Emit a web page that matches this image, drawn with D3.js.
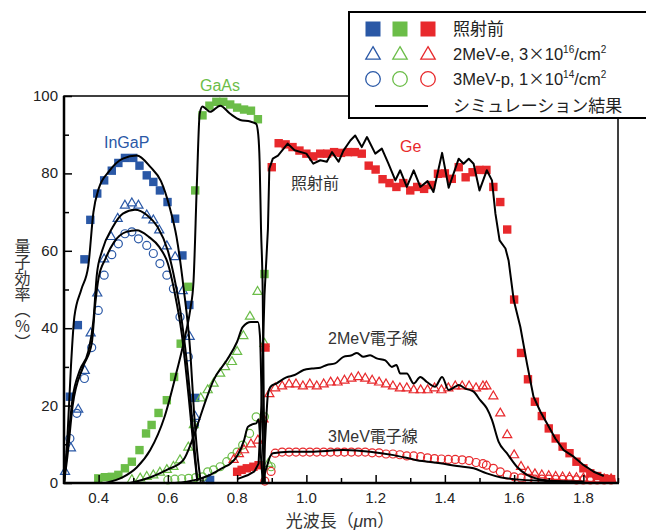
<!DOCTYPE html>
<html>
<head>
<meta charset="utf-8">
<script src="https://cdn.jsdelivr.net/npm/d3@7"></script>
<style>
  body { margin:0; background:#fff; }
  text { font-family: "Liberation Sans", Arial, "Noto Sans CJK JP", sans-serif; }
</style>
</head>
<body>
<div class="chart"></div>
<script>
// measured points, [wavelength um, QE %]
var ingapPre = [[0.317,22.3],[0.34,40.8],[0.359,57.8],[0.376,68],[0.396,74.8],[0.416,78.2],[0.438,80.7],[0.457,82.7],[0.476,84],[0.50,84],[0.518,82],[0.539,79.5],[0.558,77.8],[0.577,75.6],[0.599,72.6],[0.621,68.3],[0.642,58.8],[0.662,46],[0.679,22],[0.722,0.8]];
var ingapE = [[0.303,2.9],[0.32,9],[0.341,19],[0.36,29],[0.377,38.7],[0.396,49],[0.416,57.8],[0.436,63.6],[0.455,68.3],[0.476,71.7],[0.496,72.3],[0.515,71.7],[0.539,69.2],[0.558,67.9],[0.575,65.3],[0.597,61.2],[0.621,58.4],[0.643,49.6],[0.663,37.8],[0.679,17.1],[0.718,0.8]];
var ingapP = [[0.317,11.5],[0.337,18],[0.359,27],[0.38,35],[0.399,44.6],[0.416,53.7],[0.438,59],[0.457,61.8],[0.476,64.4],[0.496,64.9],[0.515,63.1],[0.539,61.4],[0.558,59.3],[0.577,56.7],[0.597,53.7],[0.616,50.2],[0.635,42.9],[0.659,32.6],[0.677,15]];

var gaasPre = [[0.399,1.2],[0.418,1.5],[0.438,1.6],[0.457,2.1],[0.476,3.8],[0.496,5.5],[0.518,8.5],[0.537,12.8],[0.553,15],[0.573,18.1],[0.597,21.4],[0.618,27.4],[0.637,36],[0.659,50.7],[0.679,75.6],[0.70,95],[0.72,97.5],[0.74,98.5],[0.76,98.5],[0.78,97.8],[0.80,97],[0.82,96.5],[0.84,96.2],[0.86,94],[0.879,54]];
var gaasE = [[0.496,0.8],[0.52,1.2],[0.539,1.6],[0.558,2],[0.577,2.7],[0.597,3.4],[0.616,4.2],[0.635,5.9],[0.659,9.2],[0.675,15],[0.695,21.9],[0.715,24],[0.732,25.7],[0.751,28.3],[0.765,30],[0.785,31.3],[0.80,33.9],[0.818,38],[0.837,43],[0.859,49.4],[0.879,36],[0.89,5]];
var gaasP = [[0.60,0.8],[0.62,1],[0.64,1.1],[0.66,1.2],[0.68,1.4],[0.70,1.6],[0.715,2.9],[0.732,3.4],[0.751,4.2],[0.77,5.5],[0.785,6.8],[0.80,8],[0.816,9.8],[0.836,12.8],[0.855,17.1],[0.879,17.1],[0.898,4.2]];

var gePre = [[0.80,2.9],[0.813,3.4],[0.828,3.8],[0.847,4.2],[0.862,4.6],[0.882,35],[0.90,81.6],[0.92,87.8],[0.94,87.5],[0.96,86.8],[0.98,85.9],[1.00,85.1],[1.02,84.4],[1.04,85.1],[1.06,85.1],[1.08,85.5],[1.10,85.3],[1.12,85.5],[1.14,85.5],[1.16,85.1],[1.18,82],[1.20,81],[1.22,78.5],[1.24,77.5],[1.26,76.5],[1.28,77.5],[1.30,75.6],[1.32,76.5],[1.34,76],[1.36,77],[1.38,79.9],[1.40,80],[1.42,78.6],[1.44,81.6],[1.46,79],[1.48,80.3],[1.50,80.9],[1.52,80.9],[1.54,76.5],[1.56,72.6],[1.58,65.5],[1.60,47.4],[1.62,33.6],[1.64,26.8],[1.66,21],[1.68,17.3],[1.70,14.1],[1.72,11.5],[1.74,9.4],[1.76,7.7],[1.78,5.5],[1.80,3.8],[1.82,2.5],[1.84,1.8],[1.86,1.2],[1.88,1]];
var geE = [[0.79,6],[0.805,7.5],[0.82,8.5],[0.84,10],[0.86,11],[0.876,16.5],[0.893,23],[0.91,24.5],[0.93,25],[0.95,25.5],[0.97,25.5],[0.99,25],[1.01,25.5],[1.03,25],[1.05,25.5],[1.07,26],[1.09,26],[1.11,26.5],[1.13,27],[1.15,27.4],[1.17,27],[1.19,26.5],[1.21,26],[1.23,25.5],[1.25,25],[1.27,24.5],[1.29,24.5],[1.31,24],[1.33,24],[1.35,24],[1.37,24.5],[1.39,24],[1.41,24.5],[1.43,25],[1.45,25],[1.47,25],[1.49,24.5],[1.51,25],[1.52,25],[1.54,22.4],[1.56,18],[1.58,12.4],[1.60,7.2],[1.62,4.2],[1.64,2.9],[1.66,2.3],[1.68,2],[1.70,1.8],[1.72,1.6],[1.74,1.5],[1.76,1.4],[1.78,1.3],[1.80,1.2],[1.82,1.1],[1.84,1],[1.86,1],[1.88,1]];
var geP = [[0.88,0.5],[0.898,3],[0.91,7.7],[0.93,8],[0.95,8],[0.97,8],[0.99,8],[1.01,8],[1.03,8],[1.05,8],[1.07,8],[1.09,8],[1.11,8],[1.13,8],[1.15,8],[1.17,8],[1.19,7.8],[1.21,7.8],[1.23,7.5],[1.25,7.5],[1.27,7.3],[1.29,7],[1.31,7],[1.33,6.8],[1.35,6.5],[1.37,6.3],[1.39,6.2],[1.41,6.1],[1.43,6.1],[1.45,6],[1.47,5.8],[1.49,5.3],[1.51,5],[1.52,4.6],[1.54,3.8],[1.56,2.9],[1.58,2.1],[1.60,1.6],[1.62,1.3],[1.64,1.1],[1.66,1],[1.68,1],[1.70,1],[1.72,0.9],[1.74,0.9],[1.76,0.9],[1.78,0.8],[1.80,0.8],[1.82,0.8],[1.84,0.8],[1.86,0.8],[1.88,0.8]];

// simulation curves
var ingapPreSim = [[0.30,0],[0.31,12],[0.32,30],[0.33,43],[0.35,50],[0.37,56],[0.385,70],[0.40,76],[0.43,80.5],[0.47,83.8],[0.51,84.6],[0.55,81.6],[0.58,78],[0.605,71.3],[0.625,63.6],[0.645,50.7],[0.665,33.5],[0.675,19],[0.685,7.7],[0.695,0.3]];
var ingapESim = [[0.30,0],[0.31,9],[0.325,22],[0.345,29],[0.37,34],[0.385,42],[0.395,54],[0.41,60],[0.44,66],[0.47,69.6],[0.505,70.6],[0.54,69.2],[0.57,66.2],[0.60,60],[0.62,52.4],[0.64,42],[0.66,26.6],[0.675,11],[0.685,0.5]];
var ingapPSim = [[0.30,0],[0.31,7],[0.325,20],[0.355,30],[0.38,36],[0.39,46],[0.40,53],[0.42,58],[0.445,62.3],[0.48,64.9],[0.51,65.3],[0.545,63.6],[0.575,61],[0.60,56.7],[0.62,49],[0.64,38.6],[0.66,22.3],[0.675,8.5],[0.685,0.5]];
var gaasPreSim = [[0.42,0],[0.47,1.5],[0.51,4],[0.549,8.5],[0.59,17],[0.626,29],[0.65,38],[0.665,45],[0.674,52],[0.684,78],[0.692,95.5],[0.70,97.3],[0.712,96.5],[0.722,95.9],[0.751,97.5],[0.78,95.4],[0.809,93.8],[0.838,93.4],[0.855,92.8],[0.861,90],[0.865,83],[0.869,65.7],[0.874,48.5],[0.877,20],[0.880,0]];
var gaasESim = [[0.49,0],[0.55,1.5],[0.60,3.5],[0.645,6],[0.67,11],[0.693,17],[0.712,22],[0.732,26.6],[0.77,31.7],[0.80,36.5],[0.816,40.3],[0.84,41.6],[0.86,41.6],[0.866,38],[0.870,25],[0.875,8],[0.879,0]];
var gaasPSim = [[0.62,0],[0.68,0.8],[0.72,2],[0.76,4],[0.78,5],[0.80,7],[0.82,11],[0.831,14.5],[0.845,15.2],[0.855,15.4],[0.862,16.5],[0.866,12],[0.870,5],[0.875,0]];
var gePreSim = [[0.80,1],[0.83,2],[0.85,3],[0.862,5],[0.87,20],[0.879,48.5],[0.889,65.7],[0.893,81.2],[0.903,83.8],[0.918,84.6],[0.946,87.7],[0.966,86],[1.0,85.1],[1.02,82.5],[1.04,83.4],[1.059,83],[1.074,85.5],[1.093,83],[1.107,85.9],[1.127,88.5],[1.141,89.8],[1.16,86.8],[1.175,89.4],[1.199,85.1],[1.218,86.4],[1.237,82.5],[1.257,78.2],[1.271,80.8],[1.29,76.5],[1.31,80.8],[1.329,76.5],[1.35,78],[1.367,75.2],[1.392,85.3],[1.411,76.3],[1.44,83.8],[1.454,82.5],[1.469,83.8],[1.483,82.5],[1.5,75.6],[1.521,80.8],[1.536,78.2],[1.546,69.6],[1.558,62.7],[1.575,60.6],[1.584,57.5],[1.599,47.2],[1.618,40.3],[1.637,30.9],[1.656,22.3],[1.676,18.4],[1.695,15.4],[1.719,11.5],[1.743,8.5],[1.772,6.8],[1.801,4.6],[1.83,2.9],[1.859,1.8]];
var geESim = [[0.872,0],[0.879,8],[0.885,18],[0.889,23],[0.898,25],[0.913,25.7],[0.942,27.3],[0.966,27.9],[0.992,29.2],[1.016,29.6],[1.04,29.8],[1.059,30.5],[1.083,30.9],[1.107,32.6],[1.131,33],[1.146,33.6],[1.165,32.6],[1.184,33],[1.203,32.2],[1.228,31.7],[1.247,30],[1.26,30.5],[1.271,28.3],[1.29,28.3],[1.31,25.7],[1.329,27.4],[1.348,26.1],[1.372,24.9],[1.392,27.4],[1.411,24],[1.43,24.9],[1.44,25.3],[1.459,24.4],[1.483,23.6],[1.502,21.4],[1.521,19.3],[1.536,16.3],[1.555,10.7],[1.579,7.7],[1.608,4.2],[1.637,2.1],[1.67,1],[1.72,0.5],[1.80,0.3]];
var gePSim = [[0.872,0],[0.885,4],[0.895,6.8],[0.903,7.7],[0.951,8.1],[1.011,8.1],[1.107,8.5],[1.184,8.1],[1.252,7.2],[1.319,5.9],[1.387,5.1],[1.435,4.4],[1.483,3.8],[1.521,2.5],[1.56,1.5],[1.60,1],[1.70,0.5],[1.80,0.3]];

var xTicks = [0.4,0.6,0.8,1.0,1.2,1.4,1.6,1.8];
var yTicks = [0,20,40,60,80,100];

var blue = '#2a58a6', green = '#6bbd48', red = '#e8292c';

var width = 646, height = 532;
var svg = d3.select('.chart').append('svg')
  .attr('width', width).attr('height', height)
  .style('background', '#fff');

var x = d3.scaleLinear().domain([0.3, 1.9]).range([64, 618]);
var y = d3.scaleLinear().domain([0, 100]).range([483, 96]);

// markers
function squares(data, color) {
  svg.append('g').selectAll('rect').data(data).enter().append('rect')
    .attr('x', function(d){ return x(d[0]) - 4.2; })
    .attr('y', function(d){ return y(d[1]) - 4.2; })
    .attr('width', 8.4).attr('height', 8.4)
    .attr('fill', color);
}
function triangles(data, color) {
  svg.append('g').selectAll('path').data(data).enter().append('path')
    .attr('d', d3.symbol().type(d3.symbolTriangle).size(36))
    .attr('transform', function(d){ return 'translate(' + x(d[0]) + ',' + y(d[1]) + ')'; })
    .attr('fill', 'none').attr('stroke', color).attr('stroke-width', 1.2);
}
function circles(data, color) {
  svg.append('g').selectAll('circle').data(data).enter().append('circle')
    .attr('cx', function(d){ return x(d[0]); })
    .attr('cy', function(d){ return y(d[1]); })
    .attr('r', 4)
    .attr('fill', 'none').attr('stroke', color).attr('stroke-width', 1.2);
}

squares(ingapPre, blue); triangles(ingapE, blue); circles(ingapP, blue);
squares(gaasPre, green); triangles(gaasE, green); circles(gaasP, green);
squares(gePre, red); triangles(geE, red); circles(geP, red);

// simulation lines
var smooth = d3.line().x(function(d){ return x(d[0]); }).y(function(d){ return y(d[1]); }).curve(d3.curveMonotoneX);
var jagged = d3.line().x(function(d){ return x(d[0]); }).y(function(d){ return y(d[1]); });
[ingapPreSim, ingapESim, ingapPSim, gaasPreSim, gaasESim, gaasPSim, geESim, gePSim].forEach(function(s){
  svg.append('path').attr('d', smooth(s)).attr('fill', 'none').attr('stroke', '#000').attr('stroke-width', 2);
});
svg.append('path').attr('d', jagged(gePreSim)).attr('fill', 'none').attr('stroke', '#000').attr('stroke-width', 2).attr('stroke-linejoin', 'round');

// frame
svg.append('rect').attr('x', 64).attr('y', 96).attr('width', 554).attr('height', 387)
  .attr('fill', 'none').attr('stroke', '#000').attr('stroke-width', 1.5);
svg.append('line').attr('x1', 63).attr('x2', 619).attr('y1', 483).attr('y2', 483).attr('stroke', '#000').attr('stroke-width', 2.5);
svg.append('line').attr('x1', 64).attr('x2', 64).attr('y1', 96).attr('y2', 484).attr('stroke', '#000').attr('stroke-width', 2.5);

// axes (ticks inward)
var xAxis = d3.axisTop(x).tickValues(d3.range(0.3, 1.91, 0.1)).tickSize(6).tickFormat('');
svg.append('g').attr('transform', 'translate(0,483)').call(xAxis)
  .call(function(g){ g.select('.domain').remove(); g.selectAll('line').attr('stroke-width', 1.5)
    .attr('y2', function(d){ return Math.round(d * 10) % 2 === 0 ? -8 : -5; }); });
svg.append('g').selectAll('text').data(xTicks).enter().append('text')
  .attr('x', function(d){ return x(d); }).attr('y', 503)
  .attr('text-anchor', 'middle').attr('font-size', 15).attr('fill', '#222')
  .text(function(d){ return d.toFixed(1); });

var yAxis = d3.axisRight(y).tickValues(d3.range(0, 101, 10)).tickSize(6).tickFormat('');
svg.append('g').attr('transform', 'translate(64,0)').call(yAxis)
  .call(function(g){ g.select('.domain').remove(); g.selectAll('line').attr('stroke-width', 1.5)
    .attr('x2', function(d){ return d % 20 === 0 ? 8 : 5; }); });
svg.append('g').selectAll('text').data(yTicks).enter().append('text')
  .attr('x', 58).attr('y', function(d){ return y(d) + 5; })
  .attr('text-anchor', 'end').attr('font-size', 15).attr('fill', '#222')
  .text(function(d){ return d; });

// axis titles
svg.append('text').attr('x', 21).attr('y', 294)
  .attr('text-anchor', 'middle').attr('font-size', 16).attr('fill', '#333')
  .style('writing-mode', 'vertical-rl')
  .text('量子効率（％）');
svg.append('text').attr('x', 340).attr('y', 527)
  .attr('text-anchor', 'middle').attr('font-size', 17).attr('fill', '#333')
  .html('光波長（<tspan font-style="italic">μ</tspan>m）');

// labels in plot
svg.append('text').attr('x', 104).attr('y', 148).attr('font-size', 16).attr('fill', blue).text('InGaP');
svg.append('text').attr('x', 200).attr('y', 91).attr('font-size', 16).attr('fill', green).text('GaAs');
svg.append('text').attr('x', 400).attr('y', 152).attr('font-size', 16).attr('fill', red).text('Ge');
svg.append('text').attr('x', 291).attr('y', 189).attr('font-size', 16).attr('fill', '#333').text('照射前');
svg.append('text').attr('x', 328).attr('y', 344).attr('font-size', 16).attr('fill', '#333').text('2MeV電子線');
svg.append('text').attr('x', 328).attr('y', 442).attr('font-size', 16).attr('fill', '#333').text('3MeV電子線');

// legend
var lg = svg.append('g');
lg.append('rect').attr('x', 349).attr('y', 12).attr('width', 310).attr('height', 106)
  .attr('fill', '#fff').attr('stroke', '#000').attr('stroke-width', 2);
var lx = [373, 400, 428], lcol = [blue, green, red];
lx.forEach(function(cx, i){
  lg.append('rect').attr('x', cx - 7.5).attr('y', 29 - 7.5).attr('width', 15).attr('height', 15).attr('fill', lcol[i]);
  lg.append('path').attr('d', d3.symbol().type(d3.symbolTriangle).size(90))
    .attr('transform', 'translate(' + cx + ',55)')
    .attr('fill', 'none').attr('stroke', lcol[i]).attr('stroke-width', 1.3);
  lg.append('circle').attr('cx', cx).attr('cy', 79).attr('r', 7.3)
    .attr('fill', 'none').attr('stroke', lcol[i]).attr('stroke-width', 1.3);
});
lg.append('line').attr('x1', 375).attr('x2', 428).attr('y1', 106).attr('y2', 106).attr('stroke', '#000').attr('stroke-width', 2);
lg.append('text').attr('x', 453).attr('y', 35).attr('font-size', 17).attr('fill', '#222').text('照射前');
lg.append('text').attr('x', 453).attr('y', 60).attr('font-size', 16.5).attr('fill', '#222')
  .html('2MeV-e, 3<tspan font-family="Noto Sans CJK JP">×</tspan>10<tspan font-size="10" dy="-7">16</tspan><tspan dy="7">/cm</tspan><tspan font-size="10" dy="-7">2</tspan>');
lg.append('text').attr('x', 453).attr('y', 85).attr('font-size', 16.5).attr('fill', '#222')
  .html('3MeV-p, 1<tspan font-family="Noto Sans CJK JP">×</tspan>10<tspan font-size="10" dy="-7">14</tspan><tspan dy="7">/cm</tspan><tspan font-size="10" dy="-7">2</tspan>');
lg.append('text').attr('x', 453).attr('y', 112).attr('font-size', 17).attr('fill', '#222').text('シミュレーション結果');
</script>
</body>
</html>
